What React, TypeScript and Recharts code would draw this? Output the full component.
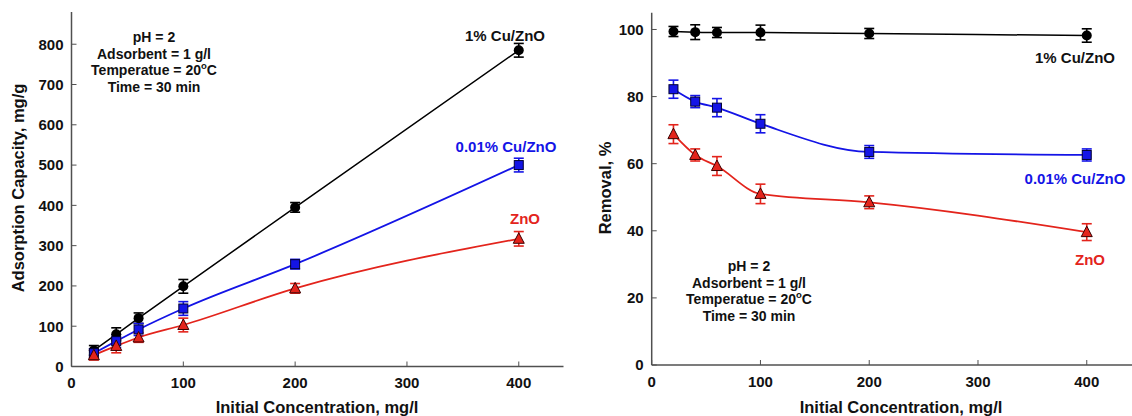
import React from 'react';
import { ComposedChart, Line, XAxis, YAxis, ErrorBar } from 'recharts';

const conc = [20, 40, 60, 100, 200, 400];

// adsorption capacity, mg/g
const capCu1 = [40, 80, 120, 199, 395, 785];
const capCu1Err = [12, 16, 13, 17, 12, 17];
const capCu001 = [33, 63, 92, 144, 254, 500];
const capCu001Err = [11, 16, 15, 17, 12, 17];
const capZnO = [28, 51, 72, 103, 194, 317];
const capZnOErr = [12, 17, 12, 17, 12, 18];

// removal, %
const remCu1 = [99.4, 99.2, 99.1, 99.1, 98.8, 98.2];
const remCu1Err = [1.5, 2.2, 1.5, 2.2, 1.5, 2];
const remCu001 = [82.2, 78.5, 76.7, 71.9, 63.5, 62.6];
const remCu001Err = [2.7, 1.8, 2.7, 2.7, 1.9, 1.8];
const remZnO = [68.8, 62.6, 59.3, 51, 48.5, 39.6];
const remZnOErr = [2.8, 1.8, 2.8, 2.9, 1.9, 2.5];

const xTicks = [0, 100, 200, 300, 400];
const capTicks = [0, 100, 200, 300, 400, 500, 600, 700, 800];
const remTicks = [0, 20, 40, 60, 80, 100];

const capData = conc.map((c, i) => ({
  c,
  a: capCu1[i], aErr: capCu1Err[i],
  b: capCu001[i], bErr: capCu001Err[i],
  z: capZnO[i], zErr: capZnOErr[i],
}));

const remData = conc.map((c, i) => ({
  c,
  a: remCu1[i], aErr: remCu1Err[i],
  b: remCu001[i], bErr: remCu001Err[i],
  z: remZnO[i], zErr: remZnOErr[i],
}));

const FONT = '"Liberation Sans", Arial, sans-serif';
const BLACK = '#000000';
const BLUE = '#1414e6';
const RED = '#e3241c';
const AXIS = '#505050';

const tickStyle = { fill: '#111', fontSize: 15, fontWeight: 'bold', fontFamily: FONT };

const CircleDot = (p: any) =>
  p.cx == null ? null : <circle key={p.key} cx={p.cx} cy={p.cy} r={5} fill={BLACK} />;

const SquareDot = (p: any) =>
  p.cx == null ? null : (
    <rect key={p.key} x={p.cx - 4.5} y={p.cy - 4.5} width={9} height={9} fill={BLUE} stroke="#000033" strokeWidth={1} />
  );

const TriDot = (p: any) =>
  p.cx == null ? null : (
    <polygon
      key={p.key}
      points={`${p.cx},${p.cy - 6} ${p.cx + 5.5},${p.cy + 4.5} ${p.cx - 5.5},${p.cy + 4.5}`}
      fill={RED}
      stroke="#3a0000"
      strokeWidth={1}
    />
  );

function Series({ data, yMax, yTicks, xMax, margin, smoothAll }: any) {
  return (
    <ComposedChart width={570} height={416} data={data} margin={margin}>
      <XAxis
        dataKey="c"
        type="number"
        domain={[0, xMax]}
        ticks={xTicks}
        allowDataOverflow
        height={30}
        tickSize={-5}
        tickMargin={16}
        tick={tickStyle}
        axisLine={{ stroke: AXIS, strokeWidth: 1.5 }}
        tickLine={{ stroke: AXIS, strokeWidth: 1 }}
      />
      <XAxis
        xAxisId="top"
        orientation="top"
        type="number"
        domain={[0, xMax]}
        height={0}
        tick={false}
        tickLine={false}
        axisLine={{ stroke: AXIS, strokeWidth: 1.5 }}
      />
      <YAxis
        type="number"
        domain={[0, yMax]}
        ticks={yTicks}
        allowDataOverflow
        width={50}
        tickSize={-5}
        tickMargin={13}
        tick={tickStyle}
        axisLine={{ stroke: AXIS, strokeWidth: 1.5 }}
        tickLine={{ stroke: AXIS, strokeWidth: 1 }}
      />
      <YAxis
        yAxisId="right"
        orientation="right"
        type="number"
        domain={[0, yMax]}
        width={0}
        tick={false}
        tickLine={false}
        axisLine={{ stroke: AXIS, strokeWidth: 1.5 }}
      />
      <Line
        dataKey="a"
        type={smoothAll ? 'monotone' : 'linear'}
        stroke={BLACK}
        strokeWidth={1.5}
        dot={<CircleDot />}
        isAnimationActive={false}
      >
        <ErrorBar dataKey="aErr" direction="y" width={5} stroke={BLACK} strokeWidth={1.6} />
      </Line>
      <Line
        dataKey="b"
        type="monotone"
        stroke={BLUE}
        strokeWidth={1.8}
        dot={<SquareDot />}
        isAnimationActive={false}
      >
        <ErrorBar dataKey="bErr" direction="y" width={5} stroke={BLUE} strokeWidth={1.6} />
      </Line>
      <Line
        dataKey="z"
        type="monotone"
        stroke={RED}
        strokeWidth={1.8}
        dot={<TriDot />}
        isAnimationActive={false}
      >
        <ErrorBar dataKey="zErr" direction="y" width={5} stroke={RED} strokeWidth={1.6} />
      </Line>
    </ComposedChart>
  );
}

const txt = (x: number, y: number, color: string, size: number, children: any, extra: any = {}) => (
  <div
    style={{
      position: 'absolute',
      left: x,
      top: y,
      transform: 'translate(-50%, -50%)',
      color,
      fontSize: size,
      fontWeight: 'bold',
      whiteSpace: 'nowrap',
      lineHeight: 1,
      ...extra,
    }}
  >
    {children}
  </div>
);

const Conditions = ({ x, y }: { x: number; y: number }) => (
  <div
    style={{
      position: 'absolute',
      left: x,
      top: y,
      transform: 'translateX(-50%)',
      fontSize: 14,
      fontWeight: 'bold',
      lineHeight: '16.6px',
      textAlign: 'center',
      whiteSpace: 'nowrap',
      color: '#111',
    }}
  >
    <div>pH = 2</div>
    <div>Adsorbent = 1 g/l</div>
    <div>
      Temperatue = 20<sup style={{ fontSize: 9.5, lineHeight: 0 }}>o</sup>C
    </div>
    <div>Time = 30 min</div>
  </div>
);

export default function App() {
  return (
    <div
      style={{
        position: 'absolute',
        left: 0,
        top: 0,
        width: 1132,
        height: 416,
        overflow: 'hidden',
        background: '#fff',
        fontFamily: FONT,
      }}
    >
      <div style={{ position: 'absolute', left: 0, top: 0 }}>
        <Series
          data={capData}
          yMax={880}
          yTicks={capTicks}
          xMax={440}
          margin={{ top: 12, right: 6.5, bottom: 19.5, left: 21.5 }}
          smoothAll={false}
        />
      </div>
      <div style={{ position: 'absolute', left: 570, top: 0 }}>
        <Series
          data={remData}
          yMax={105}
          yTicks={remTicks}
          xMax={445}
          margin={{ top: 12.7, right: 4.3, bottom: 21, left: 31.7 }}
          smoothAll={true}
        />
      </div>

      {/* axis titles */}
      {txt(18, 188, '#111', 16.5, 'Adsorption Capacity, mg/g', { transform: 'translate(-50%, -50%) rotate(-90deg)' })}
      {txt(317, 407, '#111', 16.5, 'Initial Concentration, mg/l')}
      {txt(605, 188, '#111', 16.5, 'Removal, %', { transform: 'translate(-50%, -50%) rotate(-90deg)' })}
      {txt(901, 407, '#111', 16.5, 'Initial Concentration, mg/l')}

      {/* series labels */}
      {txt(505, 35, '#111', 15, '1% Cu/ZnO')}
      {txt(506, 146, BLUE, 15, '0.01% Cu/ZnO')}
      {txt(525, 218, RED, 15, 'ZnO')}
      {txt(1075, 57, '#111', 15, '1% Cu/ZnO')}
      {txt(1075, 178, BLUE, 15, '0.01% Cu/ZnO')}
      {txt(1090, 259, RED, 15, 'ZnO')}

      <Conditions x={154} y={29} />
      <Conditions x={749} y={258} />
    </div>
  );
}
